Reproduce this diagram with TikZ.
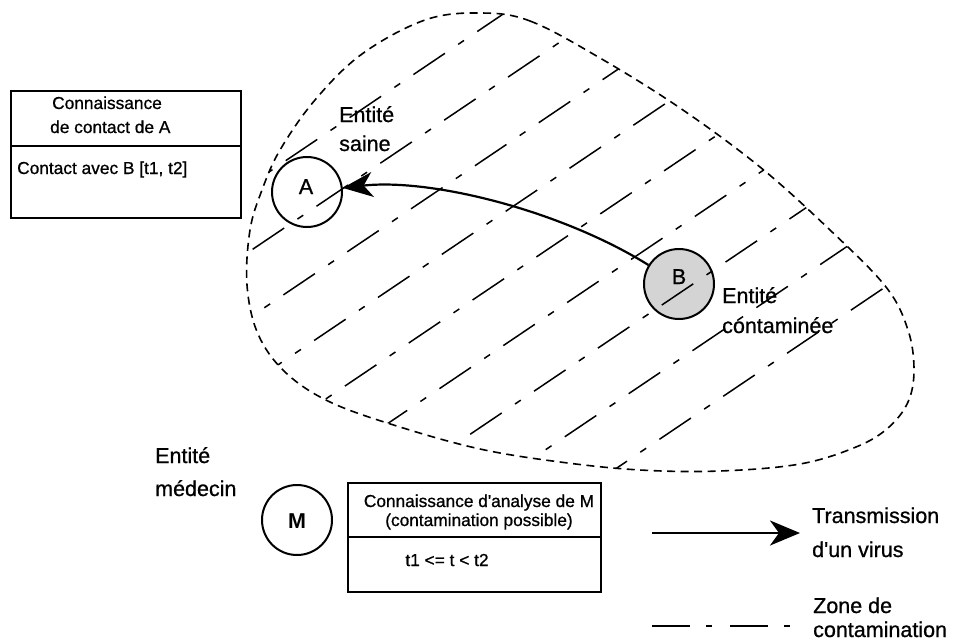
\documentclass[tikz,border=0pt]{standalone}
\usepackage{fontspec}
\setmainfont{Liberation Sans}[UprightFeatures={FakeBold=0.8}]
\usetikzlibrary{arrows.meta}
\definecolor{bfill}{RGB}{212,212,212}
\tikzset{
  ent/.style={circle, draw, line width=2pt, minimum size=70pt, inner sep=0pt},
  boxline/.style={line width=2pt},
  frame/.style={draw, line width=2pt, inner sep=0pt, anchor=north west},
  lbl/.style={anchor=base west, inner sep=0pt, font=\fontsize{21.5}{24}\selectfont},
  lblc/.style={anchor=base, inner sep=0pt, font=\fontsize{21.5}{24}\selectfont},
  smalltxt/.style={anchor=base west, inner sep=0pt, font=\fontsize{17.3}{20}\selectfont},
  smallc/.style={anchor=base, inner sep=0pt, font=\fontsize{17.3}{20}\selectfont},
  blob/.style={line width=1.6pt, dash pattern=on 8pt off 5.5pt},
  hatch/.style={line width=1.5pt, dash pattern=on 38pt off 16pt on 7pt off 16pt},
  legdash/.style={line width=2.6pt, dash pattern=on 38pt off 16pt on 6pt off 18pt},
  arr/.style={line width=2.2pt, -{Stealth[length=30pt, width=25pt, inset=9pt]}}
}
\begin{document}
\begin{tikzpicture}[x=1pt, y=-1pt]
\useasboundingbox (0,0) rectangle (954,643);

% contamination zone outline
\draw[blob] plot[smooth cycle, tension=0.6] coordinates {
  (480,13) (530,21) (600,58) (680,108) (760,167) (830,230) (886,287)
  (908,330) (914,370) (908,402) (888,428) (856,447) (800,464) (720,471)
  (640,470) (560,462) (480,449) (400,427) (330,402) (285,372) (258,334)
  (247,285) (250,230) (262,190) (280,150) (315,100) (362,54) (425,20)};

% contaminated entity (filled first, hatch goes over it)
\node[ent, fill=bfill] (B) at (679,284) {};

% hatching, clipped to the zone
\begin{scope}
\clip plot[smooth cycle, tension=0.6] coordinates {
  (480,13) (530,21) (600,58) (680,108) (760,167) (830,230) (886,287)
  (908,330) (914,370) (908,402) (888,428) (856,447) (800,464) (720,471)
  (640,470) (560,462) (480,449) (400,427) (330,402) (285,372) (258,334)
  (247,285) (250,230) (262,190) (280,150) (315,100) (362,54) (425,20)};
\foreach \c in {293,348,403,458,513,568,623,678,733} {
  \draw[hatch] ({0.559*\c-700*0.829},{0.829*\c+700*0.559}) --
               ({0.559*\c+700*0.829},{0.829*\c-700*0.559});
}
\end{scope}

% entities
\node[ent] (A) at (307,192) {};
\node[ent] (M) at (297,520) {};
\node[lblc] (Alab) at (306,194) {A};
\node[lblc] (Blab) at (679,284) {B};
\node[lblc, font=\fontsize{21.5}{24}\selectfont\bfseries] (Mlab) at (297,528) {M};

% transmission arrow
\draw[arr] (B) .. controls (560,210) and (430,178) .. (A);

% labels
\node[lbl] (saine1) at (339,122) {Entité};
\node[lbl] (saine2) at (339,151) {saine};
\node[lbl] (cont1) at (722,303) {Entité};
\node[lbl] (cont2) at (722,333) {contaminée};
\node[lbl] (med1) at (155,463) {Entité};
\node[lbl] (med2) at (155,496) {médecin};

% knowledge box of A
\node[frame, minimum width=230pt, minimum height=127pt] (box1) at (10,90) {};
\draw[boxline] (10,146) -- (240,146);
\node[smalltxt] (k1a) at (52,109) {Connaissance};
\node[smalltxt] (k1b) at (50,133) {de contact de A};
\node[smalltxt] (k1c) at (17,174) {Contact avec B [t1, t2]};

% knowledge box of M
\node[frame, minimum width=253pt, minimum height=109pt] (box2) at (347,482) {};
\draw[boxline] (347,537) -- (600,537);
\node[smallc] (k2a) at (479,507) {Connaissance d\textquotesingle analyse de M};
\node[smallc] (k2b) at (479,526) {(contamination possible)};
\node[smallc] (k2c) at (447,566) {t1 <= t < t2};

% legend
\coordinate (la1) at (652,533);
\coordinate (la2) at (800,533);
\draw[arr, line width=2.4pt] (la1) -- (la2);
\node[lbl] (leg1) at (812,523) {Transmission};
\node[lbl] (leg2) at (812,557) {d\textquotesingle un virus};
\coordinate (ld1) at (652,626);
\coordinate (ld2) at (792,626);
\draw[legdash] (ld1) -- (ld2);
\node[lbl] (leg3) at (813,613) {Zone de};
\node[lbl] (leg4) at (813,637) {contamination};
\end{tikzpicture}
\end{document}
